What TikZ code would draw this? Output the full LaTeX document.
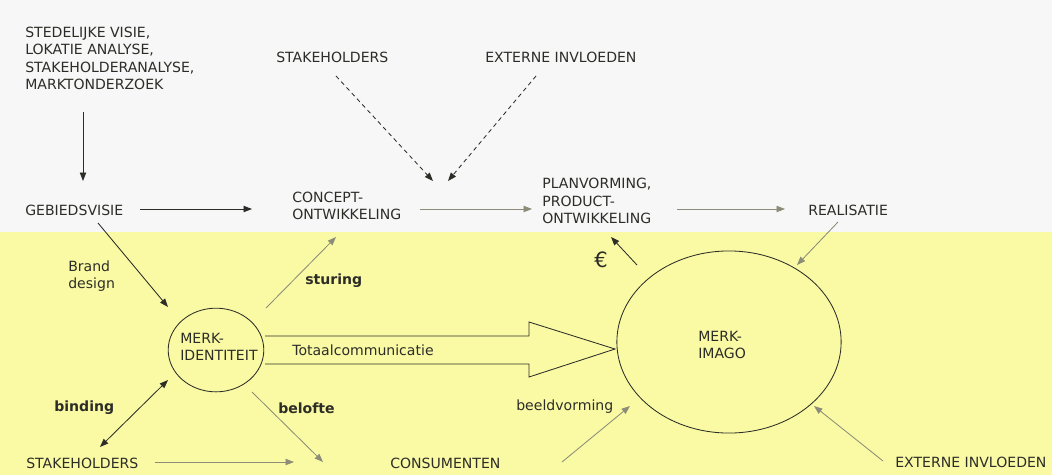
\documentclass[tikz,border=0pt]{standalone}
\usepackage{fontspec}
\setmainfont{DejaVu Sans}
\usetikzlibrary{arrows.meta,shapes.geometric}
\definecolor{papier}{RGB}{247,247,247}
\definecolor{geel}{RGB}{250,250,165}
\definecolor{inkt}{RGB}{45,45,40}
\definecolor{grijs}{RGB}{140,140,120}
\tikzset{
  tekst/.style={inkt, anchor=west, align=left, inner sep=0pt, font=\fontsize{10}{12.5}\selectfont},
  vet/.style={tekst, font=\fontsize{10}{12.5}\selectfont\bfseries},
  pijl/.style={-{Triangle[length=6pt,width=4.5pt]}, inkt, line width=0.6pt},
  grijspijl/.style={pijl, grijs},
  stippel/.style={pijl, dashed, dash pattern=on 3pt off 2.5pt},
  rand/.style={draw=inkt, line width=0.6pt}
}
\begin{document}
\begin{tikzpicture}[x=0.025cm,y=-0.025cm]
  \useasboundingbox (0,0) rectangle (1052,475);
  % achtergrond
  \fill[papier] (0,0) rectangle (1052,232);
  \fill[geel] (0,232) rectangle (1052,475);

  % bovenste rij
  \node[tekst] (bronnen) at (25,58.5) {STEDELIJKE VISIE,\\LOKATIE ANALYSE,\\STAKEHOLDERANALYSE,\\MARKTONDERZOEK};
  \node[tekst] (gebied) at (25,210) {GEBIEDSVISIE};
  \node[tekst] (concept) at (292,206) {CONCEPT-\\ONTWIKKELING};
  \node[tekst] (plan) at (542,201) {PLANVORMING,\\PRODUCT-\\ONTWIKKELING};
  \node[tekst] (realisatie) at (808,210) {REALISATIE};
  \node[tekst] (stakeboven) at (276,57) {STAKEHOLDERS};
  \node[tekst] (externboven) at (485,57) {EXTERNE INVLOEDEN};

  % onderste deel
  \node[tekst] (brand) at (68,276) {Brand\\design};
  \node[vet] (sturing) at (305,281) {sturing};
  \node[vet] (binding) at (54,408) {binding};
  \node[vet] (belofte) at (278,408) {belofte};
  \node[tekst] (beeld) at (516,407) {beeldvorming};
  \node[tekst] (stakeonder) at (26,463) {STAKEHOLDERS};
  \node[tekst] (consument) at (390,463) {CONSUMENTEN};
  \node[tekst] (externonder) at (895,462) {EXTERNE INVLOEDEN};
  \node[tekst, font=\fontsize{15}{15}\selectfont] (euro) at (594,260) {€};

  % merk
  \node[rand, ellipse, minimum width=68pt, minimum height=59.5pt] (identiteit) at (216,350) {};
  \node[tekst] (identtekst) at (180,347) {MERK-\\IDENTITEIT};
  \node[rand, ellipse, minimum width=159.5pt, minimum height=129.5pt] (imago) at (729,342) {};
  \node[tekst] (imagotekst) at (698,345) {MERK-\\IMAGO};

  % totaalcommunicatie
  \draw[inkt, line width=0.6pt] (265,336) -- (529,336) -- (529,322) -- (615,349)
    -- (529,377) -- (529,364) -- (265,364);
  \node[tekst] (totaal) at (292,350) {Totaalcommunicatie};

  % eindpunten
  \coordinate (a1) at (83,112);   \coordinate (a2) at (83,181);
  \coordinate (b1) at (140,209);  \coordinate (b2) at (252,209);
  \coordinate (c1) at (336,76);   \coordinate (c2) at (433,181);
  \coordinate (d1) at (536,76);   \coordinate (d2) at (448,181);
  \coordinate (e1) at (420,209);  \coordinate (e2) at (532,209);
  \coordinate (f1) at (677,209);  \coordinate (f2) at (785,209);
  \coordinate (g1) at (838,222);  \coordinate (g2) at (797,265);
  \coordinate (h1) at (637,265);  \coordinate (h2) at (611,237);
  \coordinate (i1) at (98,223);   \coordinate (i2) at (168,307);
  \coordinate (j1) at (266,308);  \coordinate (j2) at (336,237);
  \coordinate (k1) at (168,380);  \coordinate (k2) at (100,447);
  \coordinate (l1) at (252,392);  \coordinate (l2) at (323,462);
  \coordinate (m1) at (155,462);  \coordinate (m2) at (294,462);
  \coordinate (n1) at (562,462);  \coordinate (n2) at (630,406);
  \coordinate (o1) at (883,461);  \coordinate (o2) at (814,406);

  % pijlen
  \draw[pijl] (a1) -- (a2);
  \draw[pijl] (b1) -- (b2);
  \draw[stippel] (c1) -- (c2);
  \draw[stippel] (d1) -- (d2);
  \draw[grijspijl] (e1) -- (e2);
  \draw[grijspijl] (f1) -- (f2);
  \draw[grijspijl] (g1) -- (g2);
  \draw[pijl] (h1) -- (h2);
  \draw[pijl] (i1) -- (i2);
  \draw[grijspijl] (j1) -- (j2);
  \draw[pijl, {Triangle[length=6pt,width=4.5pt]}-{Triangle[length=6pt,width=4.5pt]}] (k1) -- (k2);
  \draw[grijspijl] (l1) -- (l2);
  \draw[grijspijl] (m1) -- (m2);
  \draw[grijspijl] (n1) -- (n2);
  \draw[grijspijl] (o1) -- (o2);
\end{tikzpicture}
\end{document}
